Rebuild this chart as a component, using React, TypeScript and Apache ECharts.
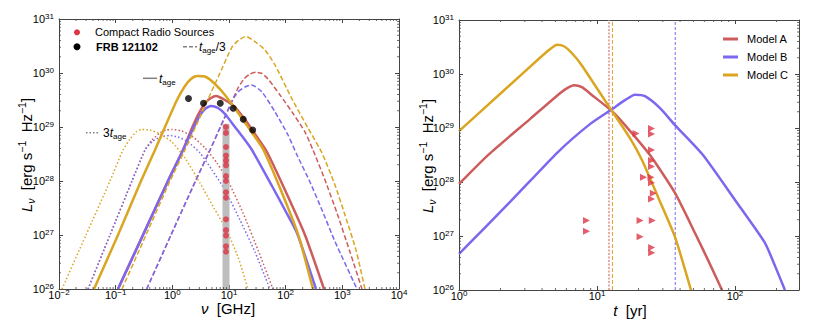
import React, { useEffect, useRef } from 'react';
import * as echarts from 'echarts';

// ===== Left panel: spectra, points are [log10(nu / GHz), log10(L_nu / erg s^-1 Hz^-1)] =====
// Model A (red)
const specA_tage: [number, number][] = [
  [-0.959, 26.0], [-0.518, 27.0], [-0.077, 28.0], [0.188, 28.574], [0.347, 28.981], [0.47, 29.259],
  [0.594, 29.463], [0.682, 29.537], [0.77, 29.574], [0.929, 29.5], [1.106, 29.37], [1.3, 29.111],
  [1.494, 28.815], [1.67, 28.537], [1.988, 27.833], [2.341, 27.0], [2.676, 26.0],
];
const specA_tage3: [number, number][] = [
  [-0.452, 26.0], [-0.024, 27.0], [0.409, 28.0], [0.665, 28.574], [0.848, 29.0], [1.063, 29.5],
  [1.159, 29.722], [1.265, 29.889], [1.37, 29.981], [1.476, 30.013], [1.582, 29.991], [1.688, 29.889],
  [1.9, 29.593], [2.112, 29.278], [2.341, 28.907], [2.482, 28.574], [2.694, 28.019], [2.906, 27.407],
  [3.135, 26.685], [3.347, 26.0],
];
const specA_3tage: [number, number][] = [
  [-1.488, 26.0], [-1.1, 27.0], [-0.712, 28.0], [-0.482, 28.574], [-0.359, 28.759], [-0.218, 28.889],
  [-0.112, 28.944], [-0.006, 28.954], [0.17, 28.926], [0.365, 28.815], [0.576, 28.611], [0.788, 28.333],
  [1.0, 27.963], [1.247, 27.407], [1.512, 26.722], [1.776, 26.0],
];
// Model B (blue)
const specB_tage: [number, number][] = [
  [-0.959, 26.0], [-0.518, 27.0], [-0.077, 28.0], [0.188, 28.574], [0.347, 28.926], [0.47, 29.185],
  [0.576, 29.333], [0.682, 29.389], [0.806, 29.352], [0.929, 29.241], [1.106, 29.0], [1.282, 28.759],
  [1.406, 28.574], [1.759, 27.907], [1.988, 27.463], [2.2, 27.037], [2.535, 26.0],
];
const specB_tage3: [number, number][] = [
  [-0.452, 26.0], [-0.024, 27.0], [0.409, 28.0], [0.665, 28.574], [0.848, 29.0], [1.063, 29.5],
  [1.159, 29.648], [1.282, 29.741], [1.397, 29.778], [1.582, 29.648], [1.812, 29.278], [2.041, 28.852],
  [2.2, 28.481], [2.429, 27.981], [2.641, 27.463], [2.87, 26.88], [3.259, 26.0],
];
const specB_3tage: [number, number][] = [
  [-1.488, 26.0], [-1.1, 27.0], [-0.712, 28.0], [-0.482, 28.574], [-0.341, 28.741], [-0.2, 28.815],
  [-0.059, 28.843], [0.1, 28.815], [0.276, 28.722], [0.488, 28.519], [0.7, 28.204], [0.929, 27.833],
  [1.194, 27.278], [1.459, 26.685], [1.723, 26.0],
];
// Model C (gold)
const specC_tage: [number, number][] = [
  [-1.382, 26.0], [-0.959, 27.0], [-0.553, 28.0], [-0.306, 28.574], [-0.13, 29.0], [0.082, 29.5],
  [0.223, 29.759], [0.329, 29.889], [0.435, 29.944], [0.594, 29.926], [0.753, 29.796], [0.929, 29.593],
  [1.088, 29.37], [1.247, 29.13], [1.423, 28.87], [1.6, 28.593], [1.9, 27.87], [2.217, 27.019], [2.482, 26.0],
];
const specC_tage3: [number, number][] = [
  [-0.888, 26.0], [-0.465, 27.0], [-0.041, 28.0], [0.223, 28.574], [0.409, 29.0], [0.624, 29.5],
  [0.841, 30.0], [1.053, 30.481], [1.176, 30.611], [1.3, 30.676], [1.459, 30.58], [1.635, 30.426],
  [1.812, 30.148], [2.106, 29.531], [2.394, 28.981], [2.641, 28.519], [2.87, 27.926], [3.047, 27.37],
  [3.241, 26.722], [3.4, 26.0],
];
const specC_3tage: [number, number][] = [
  [-1.947, 26.0], [-1.524, 27.0], [-1.1, 28.0], [-0.871, 28.574], [-0.747, 28.778], [-0.641, 28.907],
  [-0.544, 28.954], [-0.394, 28.944], [-0.218, 28.87], [-0.006, 28.722], [0.223, 28.426], [0.488, 27.963],
  [0.735, 27.5], [0.947, 27.111], [1.159, 26.593], [1.335, 26.0],
];
// FRB 121102 persistent source
const frbLogNu = [0.285, 0.55, 0.846, 1.074, 1.252, 1.418];
const frbLogL = [29.528, 29.439, 29.439, 29.348, 29.143, 28.944];
// Compact radio sources (left panel)
const compactLogNu = 0.947;
const compactLogL = [29.0, 28.89, 28.63, 28.47, 28.38, 28.29, 28.09, 28.0, 27.79, 27.69, 27.29, 27.09, 26.99, 26.79, 26.69];
const compactBarTop = 29.06;

// ===== Right panel: light curves, [log10(t / yr), log10(L_nu)] =====
const lcA: [number, number][] = [
  [0, 27.963], [0.21, 28.499], [0.514, 29.165], [0.732, 29.645], [0.79, 29.747], [0.833, 29.793],
  [0.891, 29.756], [0.964, 29.608], [1.109, 29.312], [1.203, 29.054], [1.384, 28.499], [1.565, 27.797],
  [1.71, 27.057], [1.804, 26.558], [1.906, 26.0],
];
const lcB: [number, number][] = [
  [0, 26.669], [0.37, 27.63], [0.717, 28.555], [0.949, 29.072], [1.109, 29.349], [1.203, 29.516],
  [1.275, 29.617], [1.348, 29.59], [1.457, 29.368], [1.565, 29.054], [1.768, 28.499], [2.0, 27.667],
  [2.217, 26.873], [2.29, 26.447], [2.362, 26.0],
];
const lcC: [number, number][] = [
  [0, 28.943], [0.333, 29.713], [0.587, 30.3], [0.659, 30.458], [0.71, 30.542], [0.761, 30.514],
  [0.819, 30.384], [0.889, 30.163], [1.08, 29.423], [1.239, 28.813], [1.326, 28.407], [1.442, 27.723],
  [1.565, 26.983], [1.681, 26.0],
];
const tAgeLogA = 1.087;
const tAgeLogB = 1.567;
const tAgeLogC = 1.112;
// Compact radio sources with ages (right panel upper limits)
const srcAgeLog = [1.283, 1.395, 1.395, 1.395, 1.395, 1.395, 1.337, 1.391, 1.395, 1.408, 1.395, 0.924, 0.924, 1.312, 1.401, 1.312, 1.396, 1.396];
const srcLumLog = [28.897, 28.993, 28.887, 28.592, 28.397, 28.287, 28.087, 28.087, 27.987, 27.791, 27.686, 27.285, 27.089, 27.285, 27.285, 26.987, 26.789, 26.688];

// axis ranges (decades)
const leftX: [number, number] = [-2, 4];
const rightX: [number, number] = [0, 2.464];
const lumY: [number, number] = [26, 31];
const modelNames = ['Model A', 'Model B', 'Model C'];

const FONT = '"Liberation Sans", Arial, Helvetica, sans-serif';
const COL_A = '#CD5C5C';
const COL_B = '#7B68EE';
const COL_C = '#DAA520';
const SRC_RED = '#DC3545';
const AXIS = '#444';
const GREY = '#808080';

const supTxt = (v: number) => (v < 0 ? '\u2212' + Math.abs(v) : String(v));
const tickFmt = (v: number) =>
  Math.abs(v - Math.round(v)) < 1e-9 ? `{b|10}{s|${supTxt(Math.round(v))}}` : '';
const tickRich = {
  b: { fontSize: 11, lineHeight: 14, fontFamily: FONT, color: '#000', verticalAlign: 'middle' },
  s: { fontSize: 8, lineHeight: 6, fontFamily: FONT, color: '#000', verticalAlign: 'top' },
};

function mkAxis(dim: 'x' | 'y', grid: number, pos: string, range: [number, number], labels: boolean, margin: number) {
  return {
    type: 'value',
    gridIndex: grid,
    position: pos,
    min: range[0],
    max: range[1],
    interval: 1,
    axisLine: { show: true, onZero: false, lineStyle: { color: AXIS, width: 1 } },
    axisTick: { show: true, inside: true, length: 4, lineStyle: { color: AXIS, width: 1 } },
    axisLabel: labels
      ? { show: true, formatter: tickFmt, rich: tickRich, margin, interval: 0, showMaxLabel: dim === 'y' || range[1] % 1 === 0 }
      : { show: false },
    splitLine: { show: false },
  };
}

function minorTicks(xi: number, yi: number, xr: [number, number], yr: [number, number]) {
  return {
    type: 'custom',
    xAxisIndex: xi,
    yAxisIndex: yi,
    silent: true,
    clip: false,
    z: 10,
    data: [[xr[0], yr[0]]],
    renderItem: (_p: any, api: any) => {
      const children: any[] = [];
      const seg = (x1: number, y1: number, x2: number, y2: number) =>
        children.push({ type: 'line', shape: { x1, y1, x2, y2 }, style: { stroke: AXIS, lineWidth: 0.8 } });
      for (let n = Math.floor(xr[0]); n < xr[1]; n++) {
        for (let k = 2; k < 10; k++) {
          const v = n + Math.log10(k);
          if (v <= xr[0] || v >= xr[1]) continue;
          const b = api.coord([v, yr[0]]);
          const t = api.coord([v, yr[1]]);
          seg(b[0], b[1], b[0], b[1] - 2);
          seg(t[0], t[1], t[0], t[1] + 2);
        }
      }
      for (let n = Math.floor(yr[0]); n < yr[1]; n++) {
        for (let k = 2; k < 10; k++) {
          const v = n + Math.log10(k);
          if (v <= yr[0] || v >= yr[1]) continue;
          const l = api.coord([xr[0], v]);
          const r = api.coord([xr[1], v]);
          seg(l[0], l[1], l[0] + 2, l[1]);
          seg(r[0], r[1], r[0] - 2, r[1]);
        }
      }
      return { type: 'group', children };
    },
  };
}

function curve(name: string, data: [number, number][], color: string, kind: 'solid' | 'dashed' | 'dotted', xi: number, yi: number) {
  return {
    type: 'line',
    name,
    data,
    xAxisIndex: xi,
    yAxisIndex: yi,
    color,
    showSymbol: false,
    symbol: 'none',
    smooth: 0.2,
    clip: true,
    silent: true,
    z: 2,
    lineStyle: {
      color,
      width: kind === 'solid' ? 2.5 : 1.5,
      type: kind === 'solid' ? 'solid' : kind === 'dashed' ? [5, 2.5] : [1.5, 2.2],
    },
  };
}

function vline(name: string, x: number, color: string, width: number, dash: number[]) {
  return {
    type: 'line',
    name,
    xAxisIndex: 2,
    yAxisIndex: 2,
    data: [[x, lumY[0]], [x, lumY[1]]],
    showSymbol: false,
    symbol: 'none',
    silent: true,
    z: 1,
    lineStyle: { color, width, type: dash },
  };
}

function buildOption() {
  const titleRich = {
    i: { fontSize: 15, fontStyle: 'italic', fontFamily: FONT, color: '#000', lineHeight: 20, verticalAlign: 'middle' },
    n: { fontSize: 15, fontFamily: FONT, color: '#000', lineHeight: 20, verticalAlign: 'middle' },
    sub: { fontSize: 10.5, fontStyle: 'italic', fontFamily: FONT, color: '#000', lineHeight: 10, verticalAlign: 'bottom' },
    sup: { fontSize: 10.5, fontFamily: FONT, color: '#000', lineHeight: 10, verticalAlign: 'top' },
  };
  const annRich = {
    i: { fontSize: 12, fontStyle: 'italic', fontFamily: FONT, color: GREY, lineHeight: 16, verticalAlign: 'middle' },
    n: { fontSize: 12, fontFamily: FONT, color: GREY, lineHeight: 16, verticalAlign: 'middle' },
    s: { fontSize: 8, fontFamily: FONT, color: GREY, lineHeight: 9, verticalAlign: 'bottom' },
  };
  const yTitle = '{i|L}{sub|\u03bd}{n|  [erg s}{sup|\u22121}{n|  Hz}{sup|\u22121}{n|]}';

  const series: any[] = [
    curve('A t_age', specA_tage, COL_A, 'solid', 0, 0),
    curve('A t_age/3', specA_tage3, COL_A, 'dashed', 0, 0),
    curve('A 3t_age', specA_3tage, COL_A, 'dotted', 0, 0),
    curve('B t_age', specB_tage, COL_B, 'solid', 0, 0),
    curve('B t_age/3', specB_tage3, COL_B, 'dashed', 0, 0),
    curve('B 3t_age', specB_3tage, COL_B, 'dotted', 0, 0),
    curve('C t_age', specC_tage, COL_C, 'solid', 0, 0),
    curve('C t_age/3', specC_tage3, COL_C, 'dashed', 0, 0),
    curve('C 3t_age', specC_3tage, COL_C, 'dotted', 0, 0),
    {
      type: 'line',
      name: 'band',
      xAxisIndex: 0,
      yAxisIndex: 0,
      data: [[compactLogNu, compactBarTop], [compactLogNu, lumY[0]]],
      showSymbol: false,
      symbol: 'none',
      silent: true,
      z: 3,
      lineStyle: { color: '#BEBEBE', width: 7, cap: 'butt' },
    },
    {
      type: 'scatter',
      name: 'Compact Radio Sources',
      xAxisIndex: 0,
      yAxisIndex: 0,
      data: compactLogL.map((l) => [compactLogNu, l]),
      symbolSize: 6,
      itemStyle: { color: SRC_RED },
      silent: true,
      z: 4,
    },
    {
      type: 'scatter',
      name: 'FRB 121102',
      xAxisIndex: 0,
      yAxisIndex: 0,
      data: frbLogNu.map((v, i) => [v, frbLogL[i]]),
      symbolSize: 7,
      itemStyle: { color: '#000' },
      silent: true,
      z: 4,
    },
    minorTicks(0, 0, leftX, lumY),
    vline('t_age A', tAgeLogA, '#EBA8A8', 2, [2, 1.5]),
    vline('t_age C', tAgeLogC, COL_C, 1, [4, 2]),
    vline('t_age B', tAgeLogB, COL_B, 1, [3, 2]),
    curve('Model A', lcA, COL_A, 'solid', 2, 2),
    curve('Model B', lcB, COL_B, 'solid', 2, 2),
    curve('Model C', lcC, COL_C, 'solid', 2, 2),
    {
      type: 'scatter',
      name: 'limits',
      xAxisIndex: 2,
      yAxisIndex: 2,
      data: srcAgeLog.map((a, i) => [a, srcLumLog[i]]),
      symbol: 'triangle',
      symbolRotate: -90,
      symbolSize: 7,
      itemStyle: { color: SRC_RED },
      silent: true,
      z: 4,
    },
    minorTicks(2, 2, rightX, lumY),
  ];

  return {
    animation: false,
    backgroundColor: '#fff',
    textStyle: { fontFamily: FONT },
    grid: [
      { left: 59, top: 19, width: 340, height: 270 },
      { left: 459, top: 20, width: 340, height: 270 },
    ],
    xAxis: [
      mkAxis('x', 0, 'bottom', leftX, true, -1),
      mkAxis('x', 0, 'top', leftX, false, 0),
      mkAxis('x', 1, 'bottom', rightX, true, -1),
      mkAxis('x', 1, 'top', rightX, false, 0),
    ],
    yAxis: [
      mkAxis('y', 0, 'left', lumY, true, 5),
      mkAxis('y', 0, 'right', lumY, false, 0),
      mkAxis('y', 1, 'left', lumY, true, 5),
      mkAxis('y', 1, 'right', lumY, false, 0),
    ],
    legend: {
      data: modelNames,
      orient: 'vertical',
      left: 718,
      top: 27,
      icon: 'rect',
      itemWidth: 15,
      itemHeight: 3,
      itemGap: 4,
      selectedMode: false,
      textStyle: { fontFamily: FONT, fontSize: 11, color: '#000', lineHeight: 14, padding: [0, 0, 0, 4] },
    },
    graphic: [
      // left legend
      { type: 'circle', shape: { cx: 77, cy: 32.3, r: 3 }, style: { fill: SRC_RED }, silent: true },
      { type: 'text', x: 95, y: 32, style: { text: 'Compact Radio Sources', fontSize: 11, fontFamily: FONT, fill: '#000', verticalAlign: 'middle' }, silent: true },
      { type: 'circle', shape: { cx: 77, cy: 46.7, r: 3.5 }, style: { fill: '#000' }, silent: true },
      { type: 'text', x: 96, y: 46.5, style: { text: 'FRB 121102', fontSize: 11, fontWeight: 'bold', fontFamily: FONT, fill: '#000', verticalAlign: 'middle' }, silent: true },
      // line style key
      { type: 'line', shape: { x1: 183, y1: 46.7, x2: 197, y2: 46.7 }, style: { stroke: GREY, lineWidth: 1.5, lineDash: [4, 2] }, silent: true },
      { type: 'text', x: 199, y: 46.5, style: { text: '{i|t}{s|age}{n|/3}', rich: annRich, verticalAlign: 'middle' }, silent: true },
      { type: 'line', shape: { x1: 143, y1: 78.3, x2: 157, y2: 78.3 }, style: { stroke: GREY, lineWidth: 1.5 }, silent: true },
      { type: 'text', x: 159, y: 78.5, style: { text: '{i|t}{s|age}', rich: annRich, verticalAlign: 'middle' }, silent: true },
      { type: 'line', shape: { x1: 86, y1: 132.7, x2: 100, y2: 132.7 }, style: { stroke: GREY, lineWidth: 1.5, lineDash: [1.5, 2] }, silent: true },
      { type: 'text', x: 103, y: 132.5, style: { text: '{n|3}{i|t}{s|age}', rich: annRich, verticalAlign: 'middle' }, silent: true },
      // axis titles
      { type: 'text', x: 228, y: 308, style: { text: '{i|\u03bd}{n|  [GHz]}', rich: titleRich, align: 'center', verticalAlign: 'middle' }, silent: true },
      { type: 'text', x: 630, y: 310, style: { text: '{i|t}{n|  [yr]}', rich: titleRich, align: 'center', verticalAlign: 'middle' }, silent: true },
      { type: 'text', x: 26, y: 155, rotation: Math.PI / 2, style: { text: yTitle, rich: titleRich, align: 'center', verticalAlign: 'middle' }, silent: true },
      { type: 'text', x: 427, y: 156, rotation: Math.PI / 2, style: { text: yTitle, rich: titleRich, align: 'center', verticalAlign: 'middle' }, silent: true },
    ],
    series,
  };
}

export default function App() {
  const ref = useRef<HTMLDivElement>(null);
  useEffect(() => {
    document.body.style.margin = '0';
    if (!ref.current) return;
    const chart = echarts.init(ref.current, null, { renderer: 'svg' });
    chart.setOption(buildOption() as any);
    return () => chart.dispose();
  }, []);
  return <div ref={ref} style={{ width: 831, height: 329 }} />;
}
